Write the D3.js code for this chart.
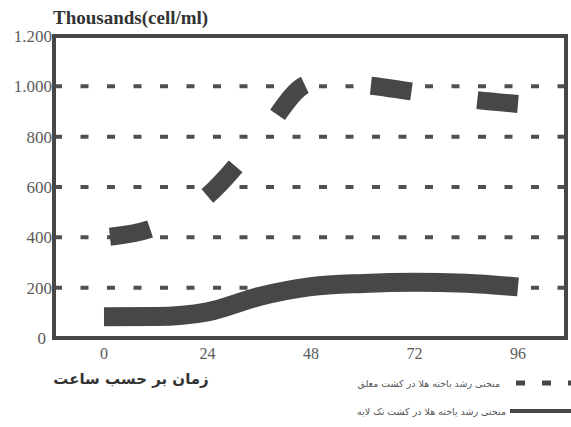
<!DOCTYPE html>
<html>
<head>
<meta charset="utf-8">
<script src="https://cdn.jsdelivr.net/npm/d3@7"></script>
<style>
  body { margin: 0; background: #fff; }
  svg { display: block; }
</style>
</head>
<body>
<div id="container"></div>
<script>
// Data (thousands of cells per ml).
const hours = [0, 12, 24, 36, 48, 60, 72, 84, 96];
const suspension = [400, 441, 565, 790, 1012, 1005, 978, 950, 930];
const monolayer = [84, 85, 104, 165, 204, 217, 222, 218, 203];
const xTicks = [0, 24, 48, 72, 96];
const yTicks = [0, 200, 400, 600, 800, 1000, 1200];
const yTickLabels = ['0', '200', '400', '600', '800', '1.000', '1.200'];
const legendLabels = [
  'منحنی رشد یاخته هلا در کشت معلق',
  'منحنی رشد یاخته هلا در کشت تک لایه'
];

const width = 571, height = 427;
const box = { left: 54, right: 566, top: 36, bottom: 338 };
const ink = '#474747';

const svg = d3.select('#container')
  .append('svg')
  .attr('width', width)
  .attr('height', height);

// Scales.
const x = d3.scaleLinear().domain([0, 96]).range([104, 518]);
const y = d3.scaleLinear().domain([0, 1200]).range([box.bottom, box.top]);

// Dotted grid lines.
svg.append('g')
  .selectAll('line')
  .data(yTicks.filter(d => d > 0 && d < 1200))
  .enter()
  .append('line')
  .attr('x1', box.left)
  .attr('x2', box.right)
  .attr('y1', d => y(d))
  .attr('y2', d => y(d))
  .attr('stroke', '#505050')
  .attr('stroke-width', 4)
  .attr('stroke-dasharray', '8,18.5');

// Curves.
const line = d3.line()
  .x(d => x(d[0]))
  .y(d => y(d[1]))
  .curve(d3.curveMonotoneX);

svg.append('path')
  .datum(hours.map((h, i) => [h, monolayer[i]]))
  .attr('d', line)
  .attr('fill', 'none')
  .attr('stroke', ink)
  .attr('stroke-width', 19);

const dashed = svg.append('path')
  .datum(hours.map((h, i) => [h, suspension[i]]))
  .attr('d', line)
  .attr('fill', 'none')
  .attr('stroke', ink)
  .attr('stroke-width', 18);

// five dashes, last one ending on the 96h point
const len = dashed.node().getTotalLength();
const dash = 41, lead = 6;
const gap = (len - lead - 5 * dash) / 4;
dashed
  .attr('stroke-dasharray', `${dash},${gap}`)
  .attr('stroke-dashoffset', -lead);

// Frame.
svg.append('rect')
  .attr('x', box.left)
  .attr('y', box.top)
  .attr('width', box.right - box.left)
  .attr('height', box.bottom - box.top)
  .attr('fill', 'none')
  .attr('stroke', ink)
  .attr('stroke-width', 4);

// Y tick labels.
svg.append('g')
  .selectAll('text')
  .data(yTicks)
  .enter()
  .append('text')
  .attr('x', (d, i) => i === 0 ? 46 : 52)
  .attr('y', d => y(d) + 6)
  .attr('text-anchor', 'end')
  .attr('font-family', 'Liberation Serif')
  .attr('font-size', 17)
  .attr('fill', '#5a5a5a')
  .text((d, i) => yTickLabels[i]);

// X tick labels.
svg.append('g')
  .selectAll('text')
  .data(xTicks)
  .enter()
  .append('text')
  .attr('x', d => x(d))
  .attr('y', 359)
  .attr('text-anchor', 'middle')
  .attr('font-family', 'Liberation Serif')
  .attr('font-size', 16)
  .attr('fill', '#5a5a5a')
  .text(d => d);

// Titles.
svg.append('text')
  .attr('x', 53)
  .attr('y', 24)
  .attr('font-family', 'Liberation Serif')
  .attr('font-weight', 'bold')
  .attr('font-size', 19)
  .attr('fill', '#333')
  .text('Thousands(cell/ml)');

svg.append('text')
  .attr('x', 131)
  .attr('y', 384)
  .attr('text-anchor', 'middle')
  .attr('direction', 'rtl')
  .attr('font-family', 'DejaVu Sans')
  .attr('font-weight', 'bold')
  .attr('font-size', 15)
  .attr('fill', '#333')
  .text('زمان بر حسب ساعت');

// Legend.
const legendY = [383, 411];
const gLegend = svg.append('g');

gLegend.selectAll('text')
  .data(legendLabels)
  .enter()
  .append('text')
  .attr('x', (d, i) => i === 0 ? 500 : 506)
  .attr('y', (d, i) => legendY[i] + 4)
  .attr('font-family', 'DejaVu Sans')
  .attr('font-size', 9.5)
  .attr('fill', '#555')
  .attr('text-anchor', 'end')
  .text(d => d);

gLegend.append('line')
  .attr('x1', 516).attr('x2', width)
  .attr('y1', legendY[0]).attr('y2', legendY[0])
  .attr('stroke', ink)
  .attr('stroke-width', 5)
  .attr('stroke-dasharray', '9,17');

gLegend.append('line')
  .attr('x1', 510).attr('x2', width)
  .attr('y1', legendY[1]).attr('y2', legendY[1])
  .attr('stroke', ink)
  .attr('stroke-width', 4);
</script>
</body>
</html>
